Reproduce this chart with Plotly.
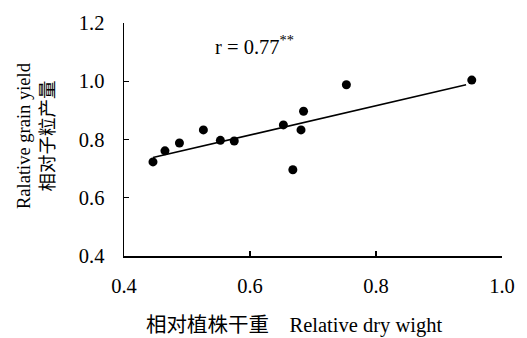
import plotly.graph_objects as go

# Data
rel_dry_weight = [0.446, 0.465, 0.488, 0.526, 0.553, 0.575, 0.653, 0.668, 0.681, 0.685, 0.753, 0.952]
rel_grain_yield = [0.723, 0.761, 0.788, 0.833, 0.797, 0.795, 0.850, 0.696, 0.833, 0.897, 0.988, 1.004]
fit_x = [0.446, 0.943]
fit_y = [0.738, 0.988]
x_ticks = [0.4, 0.6, 0.8, 1.0]
x_tick_labels = ["0.4", "0.6", "0.8", "1.0"]
y_ticks = [0.4, 0.6, 0.8, 1.0, 1.2]
y_tick_labels = ["0.4", "0.6", "0.8", "1.0", "1.2"]

FONT = "Liberation Serif, 'Noto Sans CJK SC', serif"

fig = go.Figure()
fig.add_trace(go.Scatter(x=fit_x, y=fit_y, mode="lines",
                         line=dict(color="black", width=1.6), hoverinfo="skip"))
fig.add_trace(go.Scatter(x=rel_dry_weight, y=rel_grain_yield, mode="markers",
                         marker=dict(color="black", size=9)))

fig.update_layout(
    width=527, height=338,
    margin=dict(l=124, r=17, t=21, b=82),
    paper_bgcolor="white", plot_bgcolor="white",
    showlegend=False,
    font=dict(family=FONT, size=20.5, color="black"),
    xaxis=dict(range=[0.4, 1.0], tickvals=x_ticks, ticktext=x_tick_labels,
               showgrid=False, zeroline=False, showline=True, linecolor="black",
               linewidth=1.5, ticks="inside", ticklen=5, tickwidth=1.3, tickcolor="black",
               ticklabelstandoff=11),
    yaxis=dict(range=[0.4, 1.2], tickvals=y_ticks, ticktext=y_tick_labels,
               showgrid=False, zeroline=False, showline=True, linecolor="black",
               linewidth=1.5, ticks="inside", ticklen=5, tickwidth=1.3, tickcolor="black",
               ticklabelstandoff=14),
    annotations=[
        dict(x=0.5415, y=1.125, xref="x", yref="y", xanchor="left", yanchor="middle",
             text="r = 0.77<sup>**</sup>", showarrow=False, font=dict(size=20.5)),
        dict(x=0.4495, y=0, xref="paper", yref="paper", xanchor="center", yanchor="middle",
             yshift=-69, text="相对植株干重    Relative dry wight", showarrow=False,
             font=dict(size=20.5)),
        dict(x=0, y=0.515, xref="paper", yref="paper", xanchor="center", yanchor="middle",
             xshift=-88, textangle=-90, text="Ralative grain yield<br>相对子粒产量",
             showarrow=False, font=dict(size=18.5)),
    ],
)

fig.write_html("out.html", config={"displayModeBar": False, "staticPlot": True})

# remove default page margin so the figure sits at the window's top-left corner
with open("out.html", "r", encoding="utf-8") as f:
    html = f.read()
html = html.replace("<head>", "<head><style>html,body{margin:0;padding:0;overflow:hidden;}</style>", 1)
with open("out.html", "w", encoding="utf-8") as f:
    f.write(html)
